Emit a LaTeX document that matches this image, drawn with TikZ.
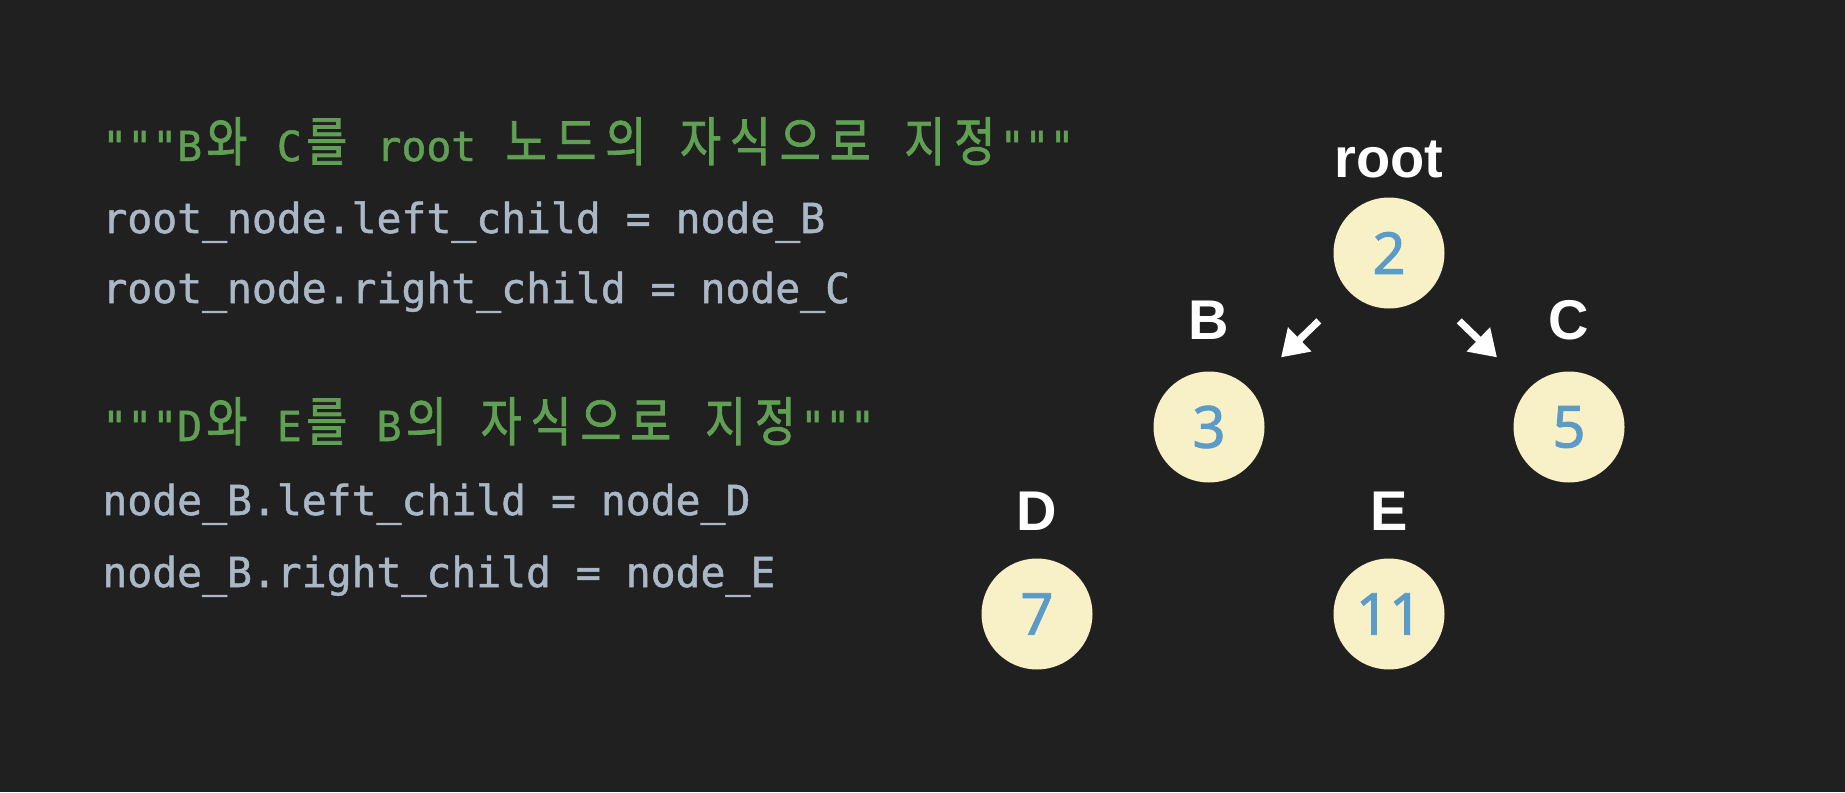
\documentclass[tikz,border=0pt]{standalone}
\usepackage{fontspec}
\usepackage{tikz}
\usetikzlibrary{arrows.meta,calc}

\setmainfont{Liberation Sans}
\newfontfamily\codefont[FakeBold=1.2]{DejaVu Sans Mono}
\newfontfamily\krfont[FakeStretch=0.84,FakeBold=1.5]{Noto Sans CJK KR}
\newfontfamily\numfont[FakeBold=1.5]{Noto Sans}

\definecolor{bgdark}{HTML}{202020}
\definecolor{codegray}{HTML}{A9B7C6}
\definecolor{docgreen}{HTML}{5FA052}
\definecolor{cream}{HTML}{F8F0C6}
\definecolor{numblue}{HTML}{5B9BC8}

% hangul takes two cells of the mono font
\newlength\cellw
\AtBeginDocument{\settowidth\cellw{\fontsize{20.7pt}{24pt}\codefont 0}}
\def\hg#1{\hgloop#1\relax}
\def\hgloop#1{\ifx#1\relax\else\makebox[2\cellw]{\krfont\fontsize{26.5pt}{30pt}\selectfont#1}\expandafter\hgloop\fi}

\tikzset{
  codeline/.style={anchor=base west, inner sep=0pt, text=codegray,
    font=\codefont\fontsize{20.7pt}{24pt}\selectfont},
  docline/.style={codeline, text=docgreen},
  treenode/.style={circle, fill=cream, minimum size=55.5pt, inner sep=0pt,
    text=numblue, font=\numfont\fontsize{29pt}{34pt}\selectfont},
  namelbl/.style={anchor=base, inner sep=0pt, text=white,
    font=\bfseries\fontsize{28pt}{32pt}\selectfont},
  ptr/.style={white, line width=3.5pt, -{Triangle[length=13pt,width=16pt]}}
}

\begin{document}
\begin{tikzpicture}[x=0.5pt, y=-0.5pt]
  \fill[bgdark] (0,0) rectangle (1845,792);

  % code
  \node[docline]  (doc1) at (102,161) {"""B\hg{와} C\hg{를} root \hg{노드의} \hg{자식으로} \hg{지정}"""};
  \node[codeline] (l1)   at (102,233) {root\_node.left\_child = node\_B};
  \node[codeline] (l2)   at (102,303) {root\_node.right\_child = node\_C};
  \node[docline]  (doc2) at (102,441) {"""D\hg{와} E\hg{를} B\hg{의} \hg{자식으로} \hg{지정}"""};
  \node[codeline] (l3)   at (102,515) {node\_B.left\_child = node\_D};
  \node[codeline] (l4)   at (102,587) {node\_B.right\_child = node\_E};

  % tree
  \node[treenode] (root) at (1389,253) {2};
  \node[treenode] (B)    at (1209,427) {3};
  \node[treenode] (C)    at (1569,427) {5};
  \node[treenode] (D)    at (1037,614) {7};
  \node[treenode] (E)    at (1389,614) {11};

  \node[namelbl] (rootname) at (1389,177) {root};
  \node[namelbl] (Bname)    at (1209,339) {B};
  \node[namelbl] (Cname)    at (1569,339) {C};
  \node[namelbl] (Dname)    at (1037,530) {D};
  \node[namelbl] (Ename)    at (1389,530) {E};

  \draw[ptr] ($(root)!0.39!(B)$) -- ($(root)!0.6!(B)$);
  \draw[ptr] ($(root)!0.39!(C)$) -- ($(root)!0.6!(C)$);
\end{tikzpicture}
\end{document}
